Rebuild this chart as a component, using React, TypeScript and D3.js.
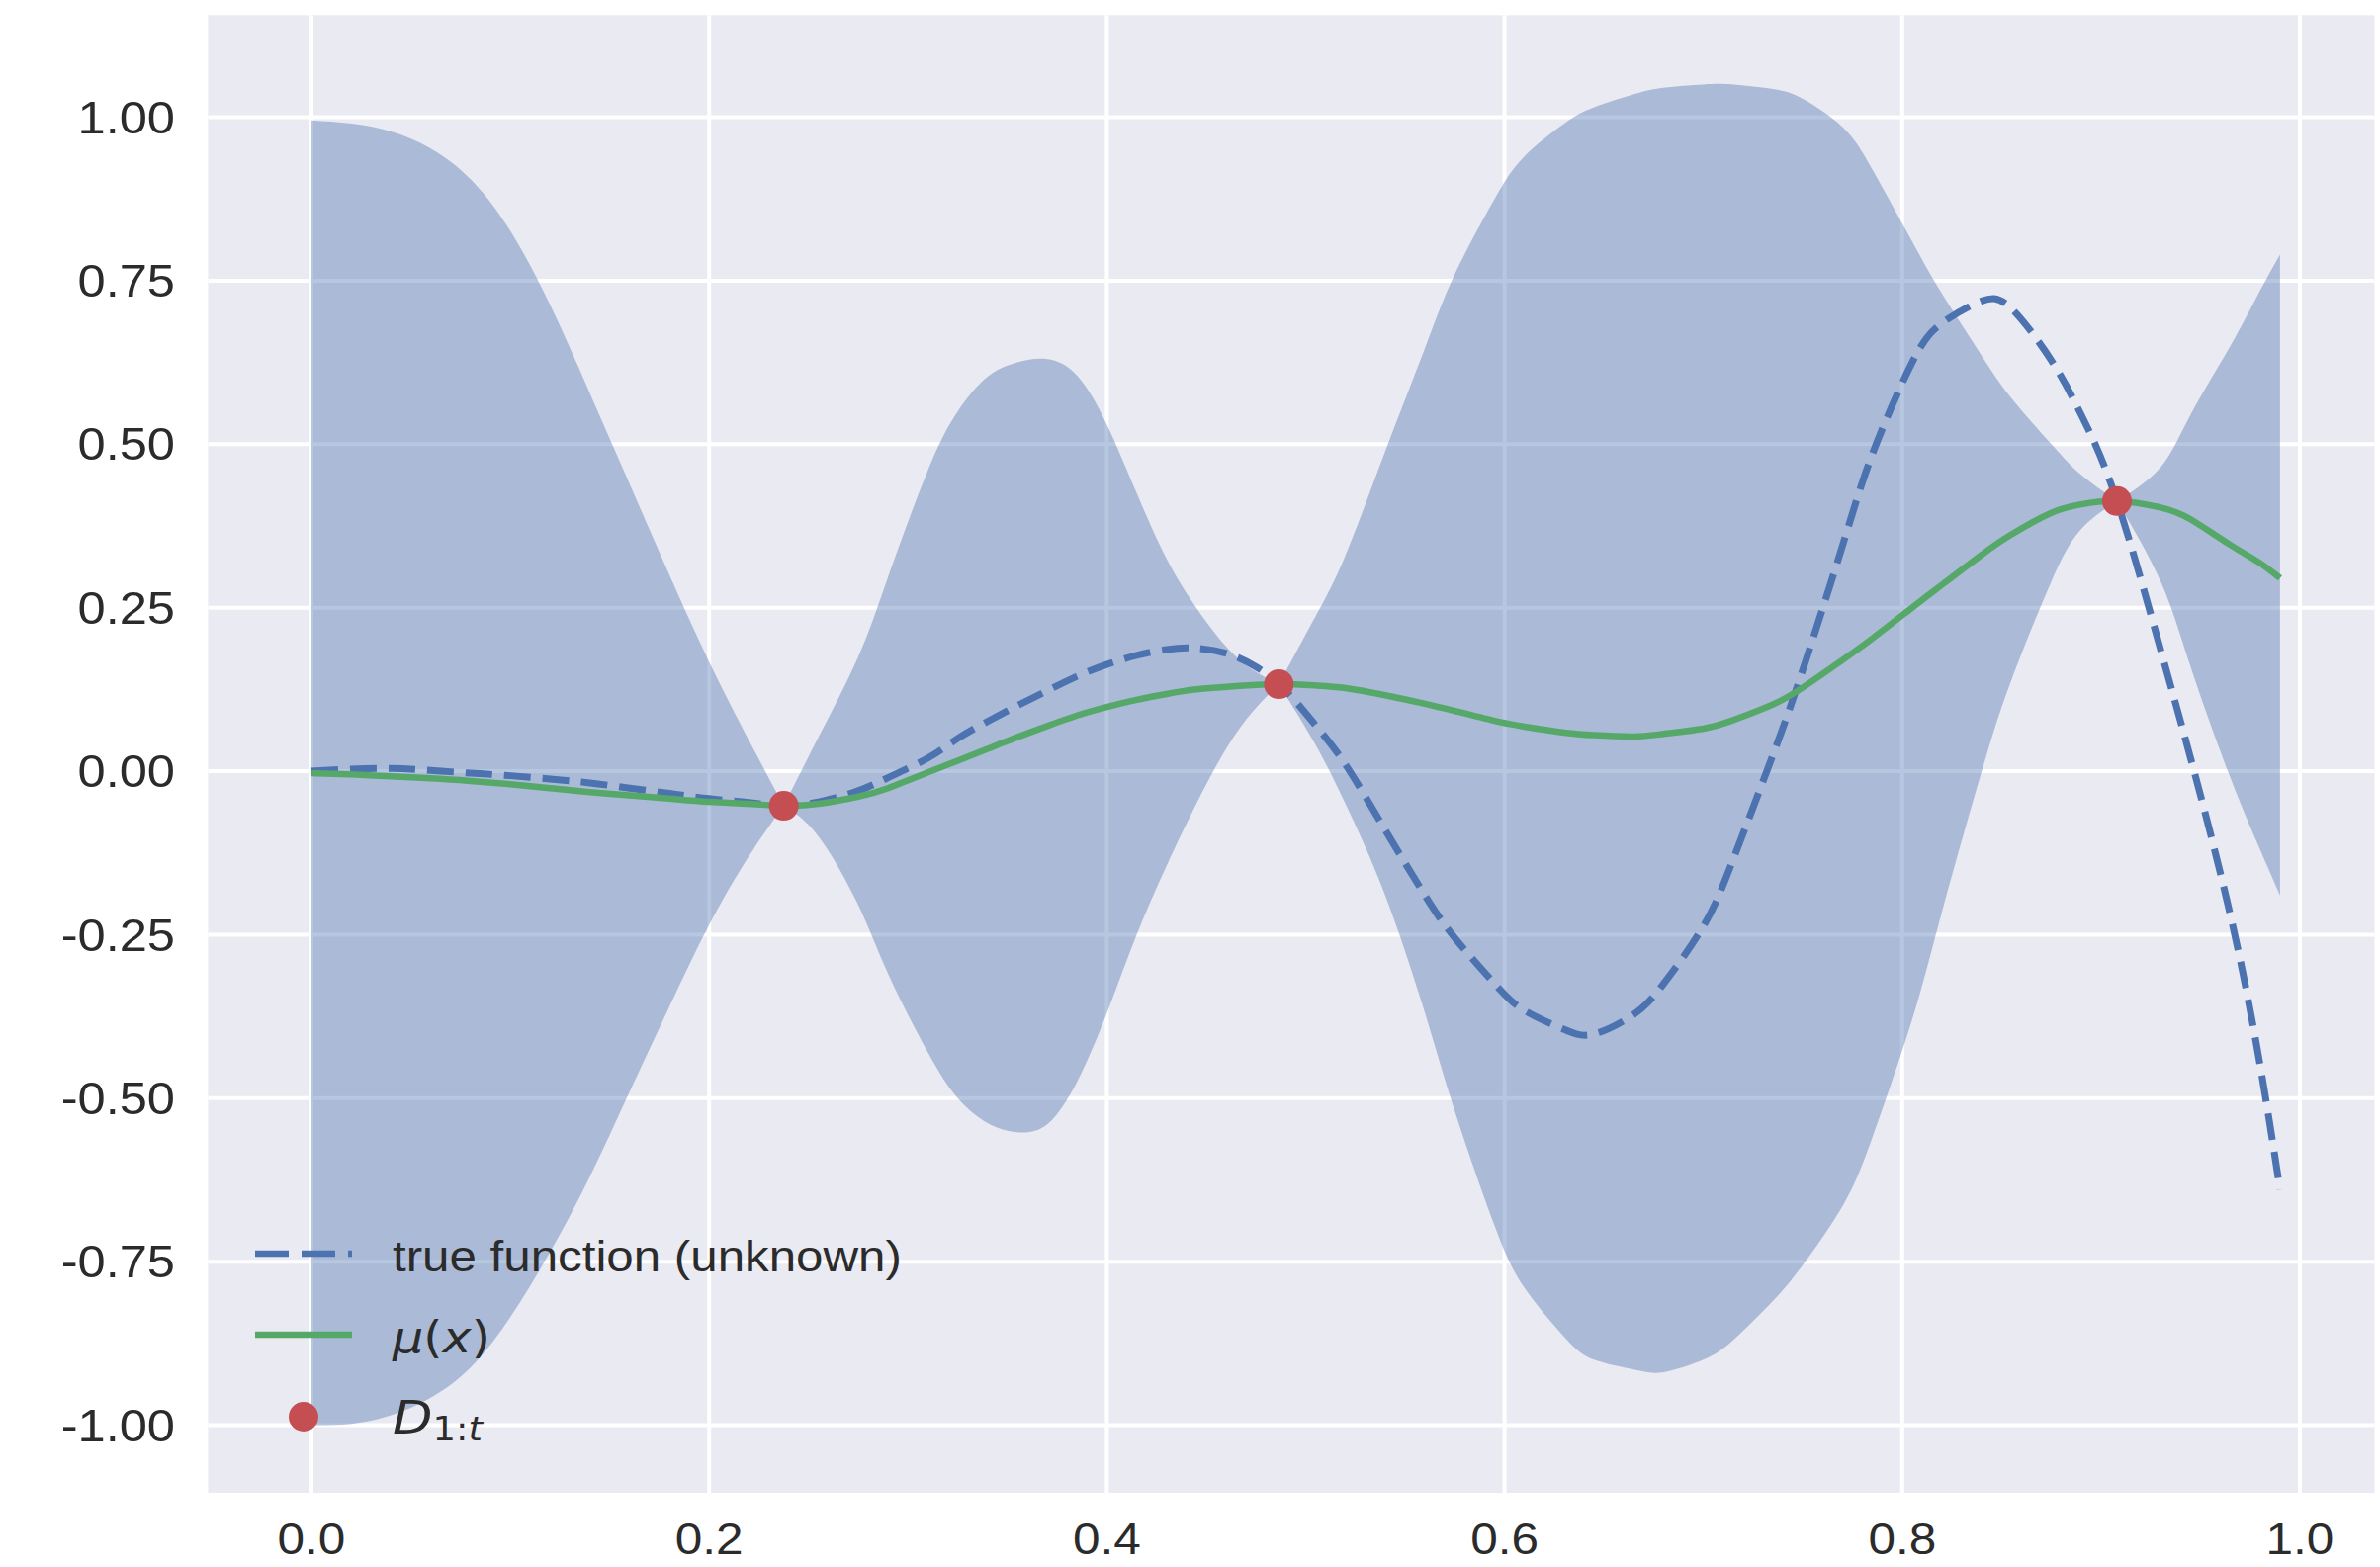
import React from 'react'
import * as d3 from 'd3'

// sample grid on x, and the curves
const xs = [0, 0.02, 0.04, 0.06, 0.08, 0.10, 0.12, 0.14, 0.16, 0.18, 0.20, 0.22, 0.2375, 0.255, 0.275, 0.29, 0.31, 0.325, 0.34, 0.355, 0.37, 0.385, 0.40, 0.415, 0.43, 0.445, 0.465, 0.4865, 0.505, 0.52, 0.54, 0.56, 0.575, 0.595, 0.61, 0.63, 0.645, 0.665, 0.68, 0.70, 0.715, 0.735, 0.75, 0.77, 0.785, 0.805, 0.82, 0.84, 0.855, 0.875, 0.89, 0.908, 0.93, 0.945, 0.965, 0.98, 0.99]

const trueFn = [0.0, 0.003, 0.004, 0.001, -0.003, -0.007, -0.012, -0.018, -0.026, -0.034, -0.042, -0.048, -0.053, -0.047, -0.03, -0.01, 0.02, 0.05, 0.076, 0.1, 0.123, 0.145, 0.163, 0.177, 0.186, 0.188, 0.175, 0.133, 0.07, 0.01, -0.09, -0.19, -0.255, -0.325, -0.366, -0.395, -0.402, -0.372, -0.325, -0.237, -0.135, 0.025, 0.155, 0.345, 0.485, 0.625, 0.685, 0.719, 0.707, 0.628, 0.545, 0.413, 0.185, 0.02, -0.22, -0.45, -0.64]

const mu = [-0.003, -0.005, -0.008, -0.011, -0.015, -0.02, -0.026, -0.032, -0.037, -0.042, -0.047, -0.05, -0.053, -0.05, -0.039, -0.026, -0.002, 0.016, 0.034, 0.052, 0.069, 0.085, 0.098, 0.109, 0.118, 0.125, 0.13, 0.133, 0.131, 0.127, 0.116, 0.103, 0.092, 0.077, 0.068, 0.059, 0.055, 0.053, 0.057, 0.065, 0.078, 0.102, 0.128, 0.17, 0.203, 0.25, 0.285, 0.331, 0.362, 0.395, 0.408, 0.413, 0.403, 0.385, 0.346, 0.318, 0.295]

const upper = [0.995, 0.99, 0.978, 0.952, 0.905, 0.826, 0.713, 0.578, 0.439, 0.30, 0.167, 0.047, -0.053, 0.052, 0.175, 0.297, 0.46, 0.55, 0.603, 0.625, 0.63, 0.605, 0.53, 0.425, 0.325, 0.25, 0.175, 0.133, 0.237, 0.33, 0.489, 0.647, 0.76, 0.875, 0.94, 0.99, 1.015, 1.035, 1.045, 1.05, 1.05, 1.043, 1.028, 0.985, 0.92, 0.81, 0.73, 0.635, 0.57, 0.5, 0.453, 0.413, 0.465, 0.545, 0.65, 0.735, 0.79]

const lower = [-1.0, -0.998, -0.985, -0.958, -0.912, -0.835, -0.735, -0.62, -0.49, -0.36, -0.235, -0.13, -0.053, -0.1, -0.205, -0.31, -0.43, -0.5, -0.538, -0.552, -0.54, -0.475, -0.37, -0.25, -0.145, -0.05, 0.058, 0.133, 0.04, -0.05, -0.19, -0.37, -0.52, -0.695, -0.79, -0.865, -0.9, -0.915, -0.919, -0.9, -0.87, -0.81, -0.755, -0.665, -0.56, -0.38, -0.215, 0.0, 0.14, 0.29, 0.37, 0.413, 0.29, 0.16, -0.01, -0.12, -0.19]

const obsX = [0.2375, 0.4865, 0.908]
const obsY = [-0.053, 0.133, 0.413]

const xTicks = [0, 0.2, 0.4, 0.6, 0.8, 1.0]
const yTicks = [-1, -0.75, -0.5, -0.25, 0, 0.25, 0.5, 0.75, 1]
const legendLabels = ['true function (unknown)', 'μ(x)', 'D1:t']

const W = 2407
const H = 1585
const BLUE = '#4C72B0'
const GREEN = '#55A868'
const RED = '#C44E52'
const TXT = '#2b2b2b'

export default function App() {
  const x = d3.scaleLinear().domain([0, 1]).range([315, 2326])
  const y = d3.scaleLinear().domain([-1, 1]).range([1441.5, 118.5])

  // band pinches at each observation, so split it there and smooth each piece
  const cuts = [0, ...obsX.map(v => xs.indexOf(v)), xs.length - 1]
  const pieces = cuts.slice(1).map((end, k) => d3.range(cuts[k], end + 1))
  const band = d3.area<number>()
    .x(i => x(xs[i]))
    .y0(i => y(lower[i]))
    .y1(i => y(upper[i]))
    .curve(d3.curveNatural)
  const line = d3.line<number>()
    .x((_, i) => x(xs[i]))
    .y(d => y(d))
    .curve(d3.curveNatural)

  const bgX0 = x(-0.052), bgX1 = x(1.0375)
  const bgY0 = y(1.156), bgY1 = y(-1.1036)

  const legX = 258, legX1 = 356, legTextX = 397
  const rows = [1268, 1350, 1433]

  return (
    <svg width={W} height={H} style={{ position: 'fixed', left: 0, top: 0, background: '#fff' }}
      fontFamily="'Liberation Sans', Arial, sans-serif">
      <rect x={bgX0} y={bgY0} width={bgX1 - bgX0} height={bgY1 - bgY0} fill="#EAEAF2" />
      {yTicks.map(t => (
        <line key={'gy' + t} x1={bgX0} x2={bgX1} y1={y(t)} y2={y(t)} stroke="#fff" strokeWidth={4} />
      ))}
      {xTicks.map(t => (
        <line key={'gx' + t} x1={x(t)} x2={x(t)} y1={bgY0} y2={bgY1} stroke="#fff" strokeWidth={4} />
      ))}

      {pieces.map((p, k) => (
        <path key={'b' + k} d={band(p) || ''} fill={BLUE} fillOpacity={0.4} />
      ))}
      <path d={line(trueFn) || ''} fill="none" stroke={BLUE} strokeWidth={7} strokeDasharray="27 12" />
      <path d={line(mu) || ''} fill="none" stroke={GREEN} strokeWidth={6.5} />
      {obsX.map((v, i) => (
        <circle key={'o' + i} cx={x(v)} cy={y(obsY[i])} r={15} fill={RED} />
      ))}

      {yTicks.map(t => (
        <text key={'ty' + t} transform={`translate(177,${y(t)}) scale(1.1,1)`}
          textAnchor="end" dominantBaseline="central" fontSize={46} fill={TXT}>
          {t.toFixed(2)}
        </text>
      ))}
      {xTicks.map(t => (
        <text key={'tx' + t} transform={`translate(${x(t)},1556) scale(1.1,1)`}
          textAnchor="middle" dominantBaseline="central" fontSize={45} fill={TXT}>
          {t.toFixed(1)}
        </text>
      ))}

      {/* legend, no frame */}
      <line x1={legX} x2={legX1} y1={rows[0]} y2={rows[0]} stroke={BLUE} strokeWidth={6.5} strokeDasharray="34 13" />
      <line x1={legX} x2={legX1} y1={rows[1]} y2={rows[1]} stroke={GREEN} strokeWidth={6.5} />
      <circle cx={(legX + legX1) / 2} cy={rows[2]} r={15} fill={RED} />

      <text transform={`translate(${legTextX},${rows[0] + 3}) scale(1.12,1)`}
        dominantBaseline="central" fontSize={44} fill={TXT}>{legendLabels[0]}</text>
      <text transform={`translate(${legTextX},${rows[1] + 3}) scale(1.12,1)`}
        dominantBaseline="central" fontSize={44} fill={TXT} fontFamily="'DejaVu Sans', sans-serif">
        <tspan fontStyle="italic">μ</tspan><tspan>(</tspan><tspan fontStyle="italic">x</tspan><tspan>)</tspan>
      </text>
      <text transform={`translate(${legTextX},${rows[2] + 17}) scale(1.12,1)`}
        fontSize={47} fill={TXT} fontFamily="'DejaVu Sans', sans-serif">
        <tspan fontStyle="italic">{legendLabels[2].slice(0, 1)}</tspan>
        <tspan fontSize={33} dy={7}>{legendLabels[2].slice(1, 3)}</tspan>
        <tspan fontSize={33} fontStyle="italic">{legendLabels[2].slice(3)}</tspan>
      </text>
    </svg>
  )
}
